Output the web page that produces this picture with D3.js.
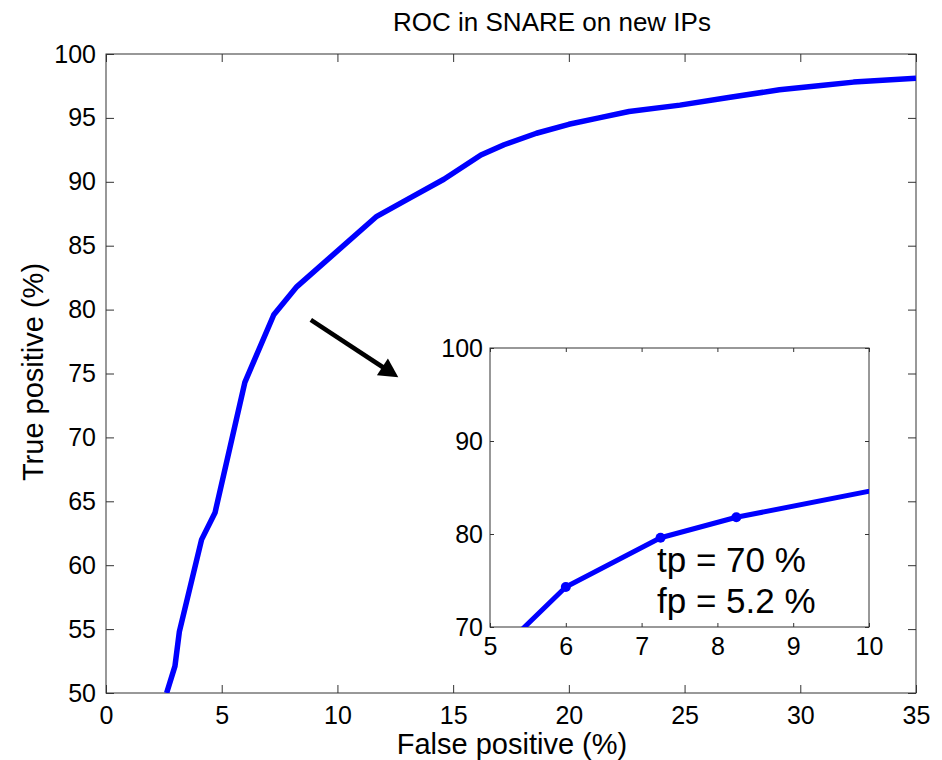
<!DOCTYPE html>
<html>
<head>
<meta charset="utf-8">
<script src="https://cdn.jsdelivr.net/npm/d3@7"></script>
<style>
  html, body { margin: 0; padding: 0; background: #fff; }
  svg text { font-family: "Liberation Sans", Arial, sans-serif; fill: #000; }
</style>
</head>
<body>
<svg id="chart" width="942" height="760"></svg>
<script>
// ---- data ----
const fpValues = [2.62, 2.98, 3.17, 4.13, 4.71, 6.0, 7.25, 8.25, 11.7, 13.2, 14.6, 16.2, 17.2, 18.6, 20.0, 21.3, 22.6, 24.8, 26.9, 29.1, 31.0, 32.3, 35.0];
const tpValues = [50.0, 52.1, 54.8, 62.0, 64.1, 74.3, 79.6, 81.8, 87.3, 88.8, 90.2, 92.1, 92.9, 93.8, 94.5, 95.0, 95.5, 96.0, 96.6, 97.2, 97.55, 97.8, 98.1];
const mainXTicks = [0, 5, 10, 15, 20, 25, 30, 35];
const mainYTicks = [50, 55, 60, 65, 70, 75, 80, 85, 90, 95, 100];
const insetXTicks = [5, 6, 7, 8, 9, 10];
const insetYTicks = [70, 80, 90, 100];
const mainXDomain = [0, 35];
const mainYDomain = [50, 100];
const insetXDomain = [5, 10];
const insetYDomain = [70, 100];
const titleText = "ROC in SNARE on new IPs";
const xLabelText = "False positive (%)";
const yLabelText = "True positive (%)";
const noteLines = ["tp = 70 %", "fp = 5.2 %"];
const arrowFrom = [8.85, 79.2];
const arrowTo = [12.63, 74.7];

const points = fpValues.map((fp, i) => ({ fp, tp: tpValues[i] }));

const svg = d3.select("#chart");
const blue = "#0000ff";
const axisColor = "#333";

// ---- main axes ----
const M = { left: 106, right: 916, top: 54, bottom: 693 };
const x = d3.scaleLinear().domain(mainXDomain).range([M.left, M.right]);
const y = d3.scaleLinear().domain(mainYDomain).range([M.bottom, M.top]);

function styleAxis(g, fontSize) {
  g.selectAll(".domain").remove();
  g.selectAll(".tick line").attr("stroke", axisColor).attr("stroke-width", 1);
  g.selectAll(".tick text").attr("font-size", fontSize).attr("fill", "#000")
    .style("font-family", '"Liberation Sans", Arial, sans-serif');
}

// frame
svg.append("rect").attr("x", M.left).attr("y", M.top)
  .attr("width", M.right - M.left).attr("height", M.bottom - M.top)
  .attr("fill", "#fff").attr("stroke", axisColor).attr("stroke-width", 1);

const tickLen = 8;
svg.append("g").attr("transform", `translate(0,${M.bottom})`)
  .call(d3.axisBottom(x).tickValues(mainXTicks).tickFormat(d3.format("d")).tickSizeInner(-tickLen).tickSizeOuter(0).tickPadding(13))
  .call(g => styleAxis(g, 25));
svg.append("g").attr("transform", `translate(0,${M.top})`)
  .call(d3.axisTop(x).tickValues(mainXTicks).tickFormat("").tickSizeInner(-tickLen).tickSizeOuter(0))
  .call(g => styleAxis(g, 25));
svg.append("g").attr("transform", `translate(${M.left},0)`)
  .call(d3.axisLeft(y).tickValues(mainYTicks).tickFormat(d3.format("d")).tickSizeInner(-tickLen).tickSizeOuter(0).tickPadding(10))
  .call(g => styleAxis(g, 25));
svg.append("g").attr("transform", `translate(${M.right},0)`)
  .call(d3.axisRight(y).tickValues(mainYTicks).tickFormat("").tickSizeInner(-tickLen).tickSizeOuter(0))
  .call(g => styleAxis(g, 25));

// main line
svg.append("defs").append("clipPath").attr("id", "mainClip")
  .append("rect").attr("x", M.left).attr("y", M.top)
  .attr("width", M.right - M.left).attr("height", M.bottom - M.top);

const mainLine = d3.line().x(d => x(d.fp)).y(d => y(d.tp));
svg.append("path").datum(points)
  .attr("d", mainLine)
  .attr("clip-path", "url(#mainClip)")
  .attr("fill", "none").attr("stroke", blue).attr("stroke-width", 5.5)
  .attr("stroke-linejoin", "round");

// title and labels
svg.append("text").attr("x", 552).attr("y", 31).attr("text-anchor", "middle")
  .attr("font-size", 26).text(titleText);
svg.append("text").attr("x", 512).attr("y", 754).attr("text-anchor", "middle")
  .attr("font-size", 29).text(xLabelText);
svg.append("text").attr("transform", `translate(43,372) rotate(-90)`)
  .attr("text-anchor", "middle").attr("font-size", 29).text(yLabelText);

// arrow
(function drawArrow() {
  const x1 = x(arrowFrom[0]), y1 = y(arrowFrom[1]);
  const x2 = x(arrowTo[0]), y2 = y(arrowTo[1]);
  const ang = Math.atan2(y2 - y1, x2 - x1);
  const headLen = 19, headHalf = 10;
  const bx = x2 - headLen * Math.cos(ang), by = y2 - headLen * Math.sin(ang);
  svg.append("line").attr("x1", x1).attr("y1", y1).attr("x2", bx + 2 * Math.cos(ang)).attr("y2", by + 2 * Math.sin(ang))
    .attr("stroke", "#000").attr("stroke-width", 4.5);
  const p1 = [bx + headHalf * Math.sin(ang), by - headHalf * Math.cos(ang)];
  const p2 = [bx - headHalf * Math.sin(ang), by + headHalf * Math.cos(ang)];
  svg.append("polygon").attr("points", [[x2, y2], p1, p2].map(p => p.join(",")).join(" "))
    .attr("fill", "#000");
})();

// ---- inset ----
const I = { left: 490, right: 869, top: 348, bottom: 627 };
const xi = d3.scaleLinear().domain(insetXDomain).range([I.left, I.right]);
const yi = d3.scaleLinear().domain(insetYDomain).range([I.bottom, I.top]);

svg.append("rect").attr("x", I.left).attr("y", I.top)
  .attr("width", I.right - I.left).attr("height", I.bottom - I.top)
  .attr("fill", "#fff").attr("stroke", axisColor).attr("stroke-width", 1);

const iTick = 4;
svg.append("g").attr("transform", `translate(0,${I.bottom})`)
  .call(d3.axisBottom(xi).tickValues(insetXTicks).tickFormat(d3.format("d")).tickSizeInner(-iTick).tickSizeOuter(0).tickPadding(10))
  .call(g => styleAxis(g, 25));
svg.append("g").attr("transform", `translate(0,${I.top})`)
  .call(d3.axisTop(xi).tickValues(insetXTicks).tickFormat("").tickSizeInner(-iTick).tickSizeOuter(0))
  .call(g => styleAxis(g, 25));
svg.append("g").attr("transform", `translate(${I.left},0)`)
  .call(d3.axisLeft(yi).tickValues(insetYTicks).tickFormat(d3.format("d")).tickSizeInner(-iTick).tickSizeOuter(0).tickPadding(7))
  .call(g => styleAxis(g, 25));
svg.append("g").attr("transform", `translate(${I.right},0)`)
  .call(d3.axisRight(yi).tickValues(insetYTicks).tickFormat("").tickSizeInner(-iTick).tickSizeOuter(0))
  .call(g => styleAxis(g, 25));

svg.select("defs").append("clipPath").attr("id", "insetClip")
  .append("rect").attr("x", I.left).attr("y", I.top)
  .attr("width", I.right - I.left).attr("height", I.bottom - I.top);

const insetLine = d3.line().x(d => xi(d.fp)).y(d => yi(d.tp));
const ig = svg.append("g").attr("clip-path", "url(#insetClip)");
ig.append("path").datum(points)
  .attr("d", insetLine)
  .attr("fill", "none").attr("stroke", blue).attr("stroke-width", 5)
  .attr("stroke-linejoin", "round");
ig.selectAll("circle.pt")
  .data(points.filter(d => d.fp > insetXDomain[0] && d.fp < insetXDomain[1] && d.tp > insetYDomain[0] && d.tp < insetYDomain[1]))
  .join("circle").attr("class", "pt")
  .attr("cx", d => xi(d.fp)).attr("cy", d => yi(d.tp)).attr("r", 5)
  .attr("fill", blue);

// annotation text
svg.append("text").attr("x", 657).attr("y", 572).attr("font-size", 35).text(noteLines[0]);
svg.append("text").attr("x", 657).attr("y", 613).attr("font-size", 35).text(noteLines[1]);
</script>
</body>
</html>
